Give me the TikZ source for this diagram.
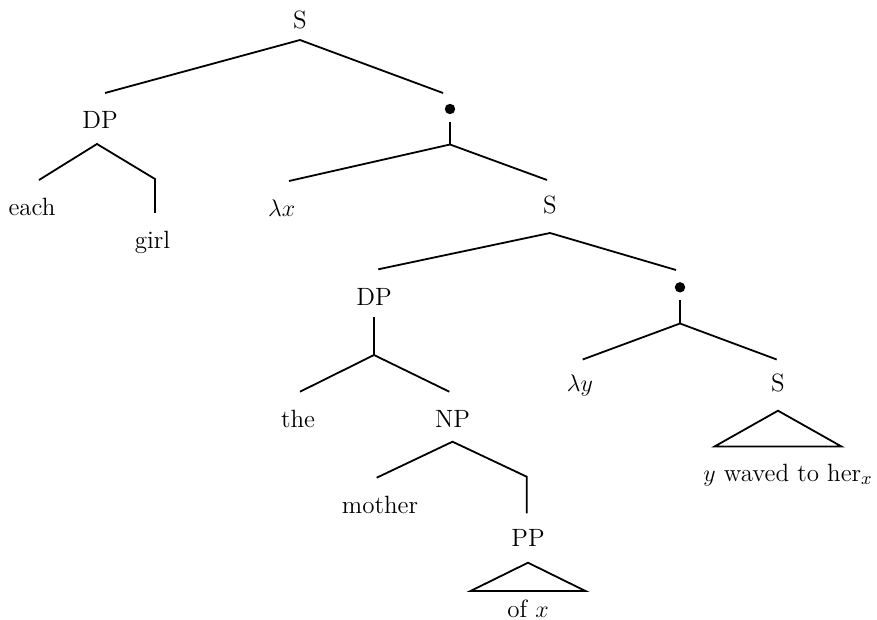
\documentclass[tikz,border=0pt]{standalone}
\usepackage{amsmath}
\usepackage{tikz}
\usetikzlibrary{positioning}
\tikzstyle{cat} = [inner sep=0pt, text height=8.7pt, text depth=2.4pt, font=\fontsize{12.5}{15}\selectfont]
\tikzstyle{dot} = [circle, fill=black, inner sep=0pt, minimum size=5.2pt]
\tikzstyle{branch} = [line width=0.9pt]

\begin{document}
\begin{tikzpicture}[node distance=1cm, on grid]
  \useasboundingbox (-150pt,11pt) rectangle (288.5pt,-299pt);
  % labels
  \node (s1) [cat] {S};
  \node (dp1) [cat, below left=50pt and 100pt of s1] {DP};
  \node (dot1) [dot, below right=43.5pt and 75pt of s1] {};
  \node (each) [cat, below left=43.85pt and 34pt of dp1] {each};
  \node (girl) [cat, below right=60pt and 26.25pt of dp1] {girl};
  \node (lamx) [cat, below left=50.7pt and 84.15pt of dot1] {$\lambda x$};
  \node (s2) [cat, below right=49pt and 50pt of dot1] {S};
  \node (dp2) [cat, below left=45.85pt and 88pt of s2] {DP};
  \node (dot2) [dot, below right=40.15pt and 65pt of s2] {};
  \node (the) [cat, below left=61.15pt and 38pt of dp2] {the};
  \node (np) [cat, below right=61.15pt and 39.25pt of dp2] {NP};
  \node (lamy) [cat, below left=49.05pt and 50pt of dot2] {$\lambda y$};
  \node (s3) [cat, below right=49.05pt and 49pt of dot2] {S};
  \node (waved) [cat, below right=44.65pt and 5pt of s3] {$y$ waved to her$_x$};
  \node (mother) [cat, below left=43pt and 36.25pt of np] {mother};
  \node (pp) [cat, below right=59.35pt and 37.75pt of np] {PP};
  \node (ofx) [cat, below=35.65pt of pp] {of $x$};

  % branch points
  \coordinate [below=9pt of s1] (s1j);
  \coordinate [above right=14.5pt and 2.5pt of dp1] (dp1t);
  \coordinate [above left=8pt and 3.5pt of dot1] (dot1t);
  \coordinate [below left=11pt and 1.5pt of dp1] (dp1j);
  \coordinate [above right=14.85pt and 3.5pt of each] (eacht);
  \coordinate [above right=14.5pt and 1.25pt of girl] (girlt);
  \coordinate [above=17pt of girlt] (girlk);
  \coordinate [below=6.5pt of dot1] (dot1b);
  \coordinate [below=17.75pt of dot1] (dot1j);
  \coordinate [above right=14.7pt and 3.65pt of lamx] (lamxt);
  \coordinate [above left=13.5pt and 1.5pt of s2] (s2t);
  \coordinate [below=13pt of s2] (s2j);
  \coordinate [above right=14.7pt and 2.15pt of dp2] (dp2t);
  \coordinate [above left=8.65pt and 2pt of dot2] (dot2t);
  \coordinate [below=9.3pt of dp2] (dp2b);
  \coordinate [below=28.15pt of dp2] (dp2j);
  \coordinate [above right=14.65pt and 1pt of the] (thet);
  \coordinate [above left=14.65pt and 1.6pt of np] (npt);
  \coordinate [below=6.5pt of dot2] (dot2b);
  \coordinate [below=18.1pt of dot2] (dot2j);
  \coordinate [above right=12.95pt and 1.35pt of lamy] (lamyt);
  \coordinate [above left=12.95pt and 0.65pt of s3] (s3t);
  \coordinate [below=12.65pt of s3] (s3j);
  \coordinate [below left=30.5pt and 31.65pt of s3] (s3l);
  \coordinate [below right=30.5pt and 31.65pt of s3] (s3r);
  \coordinate [below=10.35pt of np] (npj);
  \coordinate [above left=14.65pt and 1.65pt of mother] (mothert);
  \coordinate [above left=13.2pt and 0.65pt of pp] (ppt);
  \coordinate [above=18.3pt of ppt] (ppk);
  \coordinate [below=11.5pt of pp] (ppj);
  \coordinate [below left=25.65pt and 28.75pt of pp] (ppl);
  \coordinate [below right=25.65pt and 28.75pt of pp] (ppr);

  % branches
  \draw[branch] (dp1t) -- (s1j) -- (dot1t);
  \draw[branch] (eacht) -- (dp1j) -- (girlk) -- (girlt);
  \draw[branch] (dot1b) -- (dot1j);
  \draw[branch] (lamxt) -- (dot1j) -- (s2t);
  \draw[branch] (dp2t) -- (s2j) -- (dot2t);
  \draw[branch] (dp2b) -- (dp2j);
  \draw[branch] (thet) -- (dp2j) -- (npt);
  \draw[branch] (dot2b) -- (dot2j);
  \draw[branch] (lamyt) -- (dot2j) -- (s3t);
  \draw[branch] (s3j) -- (s3l) -- (s3r) -- cycle;
  \draw[branch] (mothert) -- (npj) -- (ppk) -- (ppt);
  \draw[branch] (ppj) -- (ppl) -- (ppr) -- cycle;
\end{tikzpicture}
\end{document}
